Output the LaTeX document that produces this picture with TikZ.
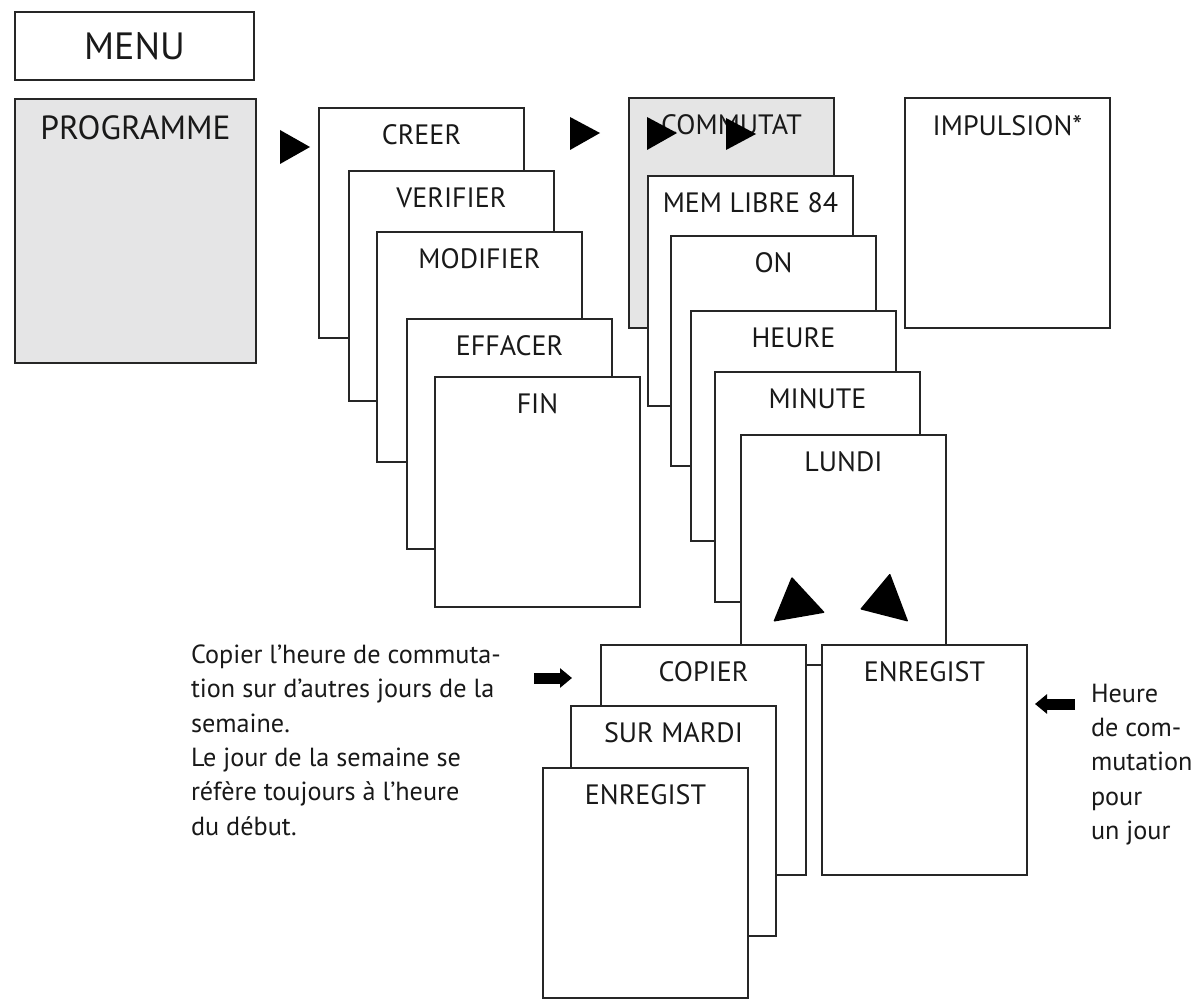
\documentclass[tikz,border=0pt]{standalone}
\usepackage{fontspec}
\setmainfont{PT Sans}
\usetikzlibrary{arrows.meta, positioning}

\begin{document}
\begin{tikzpicture}[
  x=1pt, y=-1pt,
  line width=2pt,
  screen/.style={rectangle, draw=black!85, fill=white, text=black!90,
                 minimum width=205pt, minimum height=230pt, anchor=north west,
                 inner sep=0pt},
  shaded/.style={screen, fill=black!10},
  tag/.style  ={anchor=north, inner sep=0pt, yshift=-17pt, text=black!90,
                font=\fontsize{28}{30}\selectfont},
  play/.style ={fill=black},
  note/.style ={anchor=north west, align=left, inner sep=0pt, text=black!90,
                font=\fontsize{26.2}{34.3}\selectfont},
  fat/.style  ={-{Triangle[length=12pt, width=19pt]}, line width=11pt, draw=black},
]
\useasboundingbox (0,0) rectangle (1195,1006);

% ---- top level ----
\node[screen, minimum width=239pt, minimum height=68pt,
      font=\fontsize{38}{40}\selectfont] (menu) at (14,11) {MENU};
\node[shaded, minimum width=241pt, minimum height=264pt, fill=blue!3!black!10,
      label={[tag, font=\fontsize{33.5}{36}\selectfont]north:PROGRAMME}] (prog) at (14,98) {};

\fill[play] (280,130) -- (280,164) -- (310,147) -- cycle;

% ---- programme menu stack ----
\node[screen, label={[tag]north:CREER}]    (creer) at (318,107) {};
\node[screen, label={[tag]north:VERIFIER}] (verif) at (348,170) {};
\node[screen, label={[tag]north:MODIFIER}] (modif) at (376,231) {};
\node[screen, label={[tag]north:EFFACER}]  (effac) at (406,318) {};
\node[screen, label={[tag]north:FIN}]      (fin)   at (434,376) {};

\fill[play] (570,117) -- (570,150) -- (600,133) -- cycle;

% ---- creer stack ----
\node[shaded, label={[tag]north:COMMUTAT}] (commu) at (628,97) {};
\fill[play] (647,117) -- (647,150) -- (677,133) -- cycle;
\fill[play] (726,118) -- (726,150) -- (756,134) -- cycle;
\node[screen, label={[tag]north:IMPULSION*}]   (impul) at (904,97)  {};
\node[screen, label={[tag]north:MEM LIBRE 84}] (mem)   at (647,175) {};
\node[screen, label={[tag]north:ON}]           (on)    at (670,235) {};
\node[screen, label={[tag]north:HEURE}]        (heure) at (690,310) {};
\node[screen, label={[tag]north:MINUTE}]       (minu)  at (714,371) {};
\node[screen, label={[tag]north:LUNDI}]        (lundi) at (740,434) {};

% up / down keys
\fill[play, rounded corners=1pt] (791.7,576.7) -- (773.3,621.7) -- (825,612.7) -- cycle;
\fill[play, rounded corners=1pt] (890,573.3) -- (860,609.3) -- (908.3,621.7) -- cycle;

% ---- copy / save ----
\node[screen, label={[tag]north:COPIER}]    (copier) at (600,644) {};
\node[screen, label={[tag]north:ENREGIST}]  (enr)    at (821,644) {};
\node[screen, label={[tag]north:SUR MARDI}] (mardi)  at (570,705) {};
\node[screen, label={[tag]north:ENREGIST}]  (enr2)   at (542,767) {};

% ---- notes ----
\node[note] (copytxt) at (190,644) {Copier l'heure de commuta-\\tion sur d'autres jours de la\\semaine.\\Le jour de la semaine se\\réfère toujours à l'heure\\du début.};
\node[note] (savetxt) at (1090,683) {Heure\\de com-\\mutation\\pour\\un jour};

\coordinate (cpin) at (534,678);
\coordinate (enin) at (1075,704);
\draw[fat, shorten >=28pt] (cpin) -- (cpin -| copier.west);
\draw[fat, shorten >=7pt]  (enin) -- (enin -| enr.east);

\end{tikzpicture}
\end{document}
